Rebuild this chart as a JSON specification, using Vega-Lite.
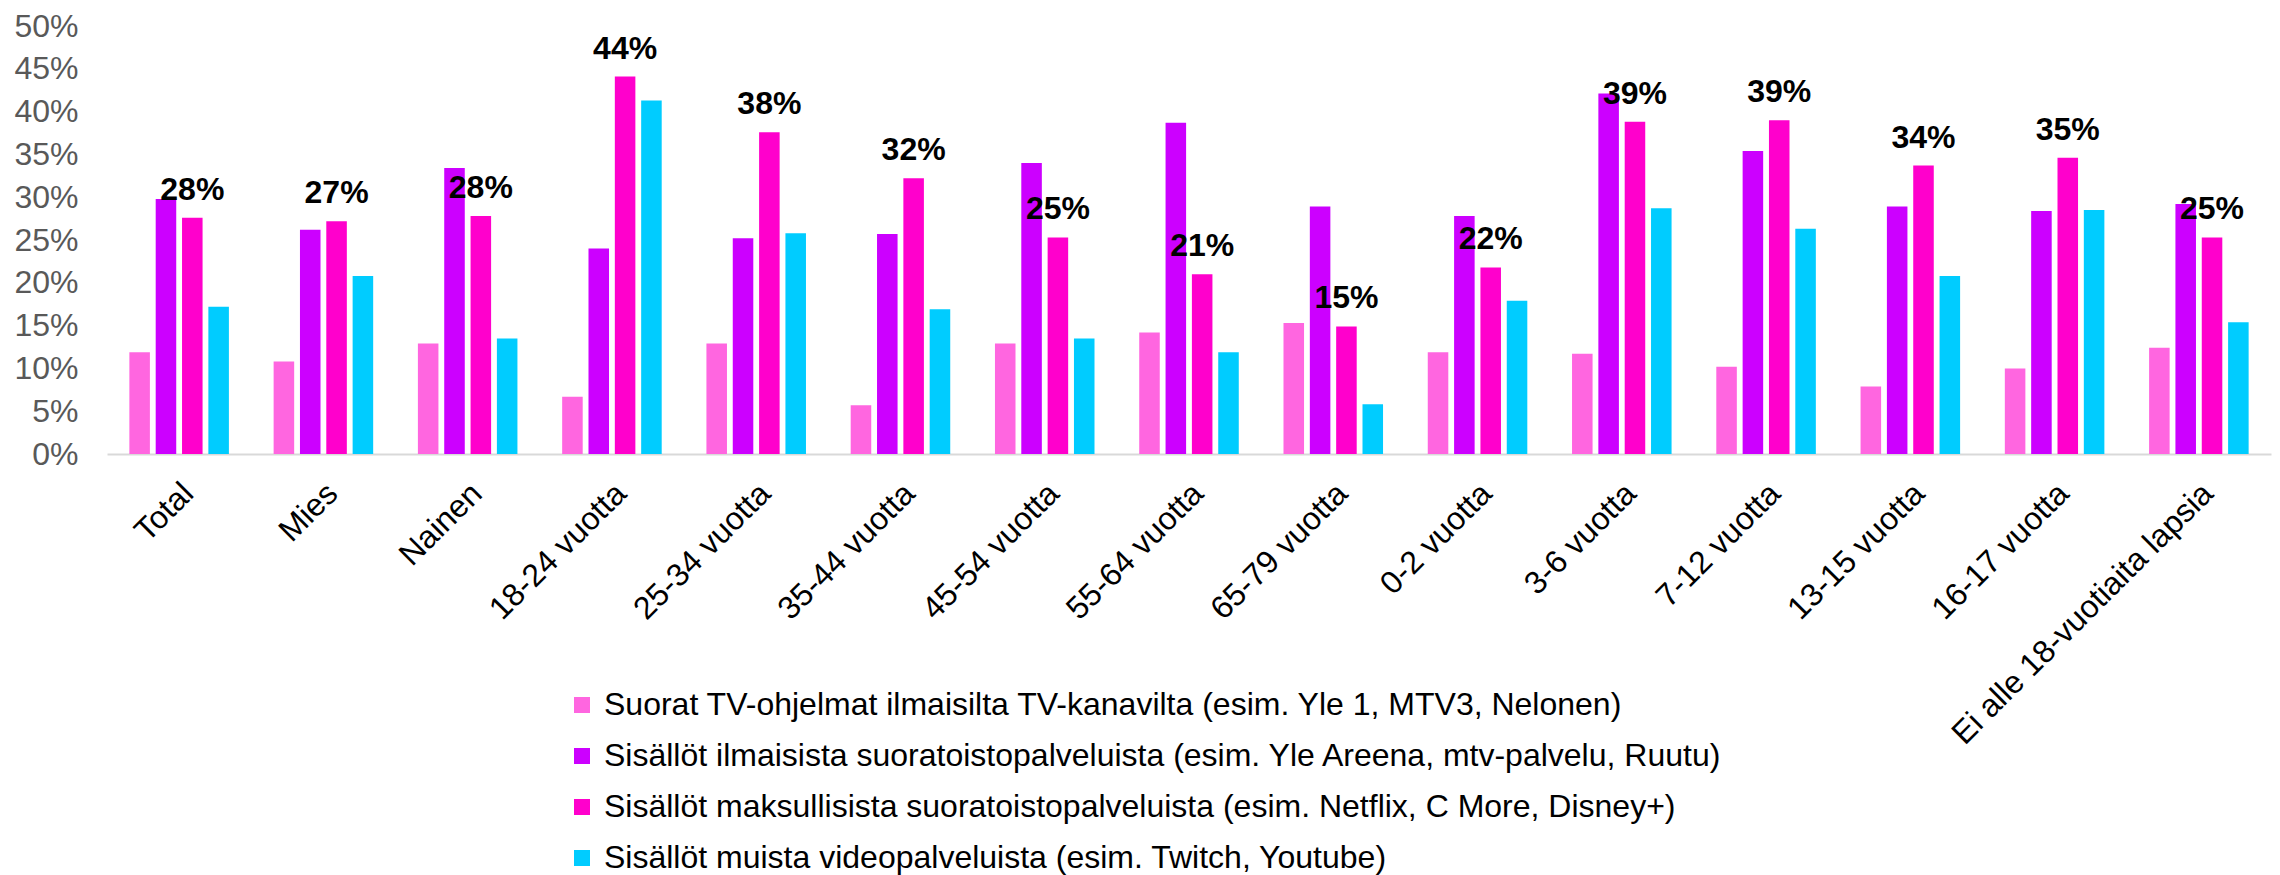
{
  "$schema": "https://vega.github.io/schema/vega-lite/v6.json",
  "autosize": {"type": "none"},
  "padding": {"left": 107, "top": 26, "right": 9, "bottom": 421},
  "width": 2164,
  "height": 428,
  "background": "white",
  "config": {
    "view": {"stroke": null},
    "font": "Liberation Sans"
  },
  "data": {
    "values": [
      {"g": "Total", "s": "Suorat TV-ohjelmat ilmaisilta TV-kanavilta (esim. Yle 1, MTV3, Nelonen)", "v": 0.119},
      {"g": "Total", "s": "Sisällöt ilmaisista suoratoistopalveluista (esim. Yle Areena, mtv-palvelu, Ruutu)", "v": 0.298},
      {"g": "Total", "s": "Sisällöt maksullisista suoratoistopalveluista (esim. Netflix, C More, Disney+)", "v": 0.276},
      {"g": "Total", "s": "Sisällöt muista videopalveluista (esim. Twitch, Youtube)", "v": 0.172},
      {"g": "Mies", "s": "Suorat TV-ohjelmat ilmaisilta TV-kanavilta (esim. Yle 1, MTV3, Nelonen)", "v": 0.108},
      {"g": "Mies", "s": "Sisällöt ilmaisista suoratoistopalveluista (esim. Yle Areena, mtv-palvelu, Ruutu)", "v": 0.262},
      {"g": "Mies", "s": "Sisällöt maksullisista suoratoistopalveluista (esim. Netflix, C More, Disney+)", "v": 0.272},
      {"g": "Mies", "s": "Sisällöt muista videopalveluista (esim. Twitch, Youtube)", "v": 0.208},
      {"g": "Nainen", "s": "Suorat TV-ohjelmat ilmaisilta TV-kanavilta (esim. Yle 1, MTV3, Nelonen)", "v": 0.129},
      {"g": "Nainen", "s": "Sisällöt ilmaisista suoratoistopalveluista (esim. Yle Areena, mtv-palvelu, Ruutu)", "v": 0.334},
      {"g": "Nainen", "s": "Sisällöt maksullisista suoratoistopalveluista (esim. Netflix, C More, Disney+)", "v": 0.278},
      {"g": "Nainen", "s": "Sisällöt muista videopalveluista (esim. Twitch, Youtube)", "v": 0.135},
      {"g": "18-24 vuotta", "s": "Suorat TV-ohjelmat ilmaisilta TV-kanavilta (esim. Yle 1, MTV3, Nelonen)", "v": 0.067},
      {"g": "18-24 vuotta", "s": "Sisällöt ilmaisista suoratoistopalveluista (esim. Yle Areena, mtv-palvelu, Ruutu)", "v": 0.240},
      {"g": "18-24 vuotta", "s": "Sisällöt maksullisista suoratoistopalveluista (esim. Netflix, C More, Disney+)", "v": 0.441},
      {"g": "18-24 vuotta", "s": "Sisällöt muista videopalveluista (esim. Twitch, Youtube)", "v": 0.413},
      {"g": "25-34 vuotta", "s": "Suorat TV-ohjelmat ilmaisilta TV-kanavilta (esim. Yle 1, MTV3, Nelonen)", "v": 0.129},
      {"g": "25-34 vuotta", "s": "Sisällöt ilmaisista suoratoistopalveluista (esim. Yle Areena, mtv-palvelu, Ruutu)", "v": 0.252},
      {"g": "25-34 vuotta", "s": "Sisällöt maksullisista suoratoistopalveluista (esim. Netflix, C More, Disney+)", "v": 0.376},
      {"g": "25-34 vuotta", "s": "Sisällöt muista videopalveluista (esim. Twitch, Youtube)", "v": 0.258},
      {"g": "35-44 vuotta", "s": "Suorat TV-ohjelmat ilmaisilta TV-kanavilta (esim. Yle 1, MTV3, Nelonen)", "v": 0.057},
      {"g": "35-44 vuotta", "s": "Sisällöt ilmaisista suoratoistopalveluista (esim. Yle Areena, mtv-palvelu, Ruutu)", "v": 0.257},
      {"g": "35-44 vuotta", "s": "Sisällöt maksullisista suoratoistopalveluista (esim. Netflix, C More, Disney+)", "v": 0.322},
      {"g": "35-44 vuotta", "s": "Sisällöt muista videopalveluista (esim. Twitch, Youtube)", "v": 0.169},
      {"g": "45-54 vuotta", "s": "Suorat TV-ohjelmat ilmaisilta TV-kanavilta (esim. Yle 1, MTV3, Nelonen)", "v": 0.129},
      {"g": "45-54 vuotta", "s": "Sisällöt ilmaisista suoratoistopalveluista (esim. Yle Areena, mtv-palvelu, Ruutu)", "v": 0.340},
      {"g": "45-54 vuotta", "s": "Sisällöt maksullisista suoratoistopalveluista (esim. Netflix, C More, Disney+)", "v": 0.253},
      {"g": "45-54 vuotta", "s": "Sisällöt muista videopalveluista (esim. Twitch, Youtube)", "v": 0.135},
      {"g": "55-64 vuotta", "s": "Suorat TV-ohjelmat ilmaisilta TV-kanavilta (esim. Yle 1, MTV3, Nelonen)", "v": 0.142},
      {"g": "55-64 vuotta", "s": "Sisällöt ilmaisista suoratoistopalveluista (esim. Yle Areena, mtv-palvelu, Ruutu)", "v": 0.387},
      {"g": "55-64 vuotta", "s": "Sisällöt maksullisista suoratoistopalveluista (esim. Netflix, C More, Disney+)", "v": 0.210},
      {"g": "55-64 vuotta", "s": "Sisällöt muista videopalveluista (esim. Twitch, Youtube)", "v": 0.119},
      {"g": "65-79 vuotta", "s": "Suorat TV-ohjelmat ilmaisilta TV-kanavilta (esim. Yle 1, MTV3, Nelonen)", "v": 0.153},
      {"g": "65-79 vuotta", "s": "Sisällöt ilmaisista suoratoistopalveluista (esim. Yle Areena, mtv-palvelu, Ruutu)", "v": 0.289},
      {"g": "65-79 vuotta", "s": "Sisällöt maksullisista suoratoistopalveluista (esim. Netflix, C More, Disney+)", "v": 0.149},
      {"g": "65-79 vuotta", "s": "Sisällöt muista videopalveluista (esim. Twitch, Youtube)", "v": 0.058},
      {"g": "0-2 vuotta", "s": "Suorat TV-ohjelmat ilmaisilta TV-kanavilta (esim. Yle 1, MTV3, Nelonen)", "v": 0.119},
      {"g": "0-2 vuotta", "s": "Sisällöt ilmaisista suoratoistopalveluista (esim. Yle Areena, mtv-palvelu, Ruutu)", "v": 0.278},
      {"g": "0-2 vuotta", "s": "Sisällöt maksullisista suoratoistopalveluista (esim. Netflix, C More, Disney+)", "v": 0.218},
      {"g": "0-2 vuotta", "s": "Sisällöt muista videopalveluista (esim. Twitch, Youtube)", "v": 0.179},
      {"g": "3-6 vuotta", "s": "Suorat TV-ohjelmat ilmaisilta TV-kanavilta (esim. Yle 1, MTV3, Nelonen)", "v": 0.117},
      {"g": "3-6 vuotta", "s": "Sisällöt ilmaisista suoratoistopalveluista (esim. Yle Areena, mtv-palvelu, Ruutu)", "v": 0.421},
      {"g": "3-6 vuotta", "s": "Sisällöt maksullisista suoratoistopalveluista (esim. Netflix, C More, Disney+)", "v": 0.388},
      {"g": "3-6 vuotta", "s": "Sisällöt muista videopalveluista (esim. Twitch, Youtube)", "v": 0.287},
      {"g": "7-12 vuotta", "s": "Suorat TV-ohjelmat ilmaisilta TV-kanavilta (esim. Yle 1, MTV3, Nelonen)", "v": 0.102},
      {"g": "7-12 vuotta", "s": "Sisällöt ilmaisista suoratoistopalveluista (esim. Yle Areena, mtv-palvelu, Ruutu)", "v": 0.354},
      {"g": "7-12 vuotta", "s": "Sisällöt maksullisista suoratoistopalveluista (esim. Netflix, C More, Disney+)", "v": 0.390},
      {"g": "7-12 vuotta", "s": "Sisällöt muista videopalveluista (esim. Twitch, Youtube)", "v": 0.263},
      {"g": "13-15 vuotta", "s": "Suorat TV-ohjelmat ilmaisilta TV-kanavilta (esim. Yle 1, MTV3, Nelonen)", "v": 0.079},
      {"g": "13-15 vuotta", "s": "Sisällöt ilmaisista suoratoistopalveluista (esim. Yle Areena, mtv-palvelu, Ruutu)", "v": 0.289},
      {"g": "13-15 vuotta", "s": "Sisällöt maksullisista suoratoistopalveluista (esim. Netflix, C More, Disney+)", "v": 0.337},
      {"g": "13-15 vuotta", "s": "Sisällöt muista videopalveluista (esim. Twitch, Youtube)", "v": 0.208},
      {"g": "16-17 vuotta", "s": "Suorat TV-ohjelmat ilmaisilta TV-kanavilta (esim. Yle 1, MTV3, Nelonen)", "v": 0.100},
      {"g": "16-17 vuotta", "s": "Sisällöt ilmaisista suoratoistopalveluista (esim. Yle Areena, mtv-palvelu, Ruutu)", "v": 0.284},
      {"g": "16-17 vuotta", "s": "Sisällöt maksullisista suoratoistopalveluista (esim. Netflix, C More, Disney+)", "v": 0.346},
      {"g": "16-17 vuotta", "s": "Sisällöt muista videopalveluista (esim. Twitch, Youtube)", "v": 0.285},
      {"g": "Ei alle 18-vuotiaita lapsia", "s": "Suorat TV-ohjelmat ilmaisilta TV-kanavilta (esim. Yle 1, MTV3, Nelonen)", "v": 0.124},
      {"g": "Ei alle 18-vuotiaita lapsia", "s": "Sisällöt ilmaisista suoratoistopalveluista (esim. Yle Areena, mtv-palvelu, Ruutu)", "v": 0.292},
      {"g": "Ei alle 18-vuotiaita lapsia", "s": "Sisällöt maksullisista suoratoistopalveluista (esim. Netflix, C More, Disney+)", "v": 0.253},
      {"g": "Ei alle 18-vuotiaita lapsia", "s": "Sisällöt muista videopalveluista (esim. Twitch, Youtube)", "v": 0.154}
    ]
  },
  "encoding": {
    "x": {
      "field": "g",
      "type": "nominal",
      "sort": null,
      "scale": {"paddingInner": 0.31, "paddingOuter": 0.155},
      "axis": {
        "title": null,
        "labelAngle": -45,
        "labelAlign": "right",
        "labelBaseline": "middle",
        "labelFontSize": 32,
        "labelColor": "#000000",
        "labelPadding": 34,
        "labelOffset": 9,
        "labelLimit": 0,
        "ticks": false,
        "domainColor": "#D9D9D9",
        "domainWidth": 2,
        "grid": false
      }
    },
    "xOffset": {
      "field": "s",
      "type": "nominal",
      "sort": [
        "Suorat TV-ohjelmat ilmaisilta TV-kanavilta (esim. Yle 1, MTV3, Nelonen)",
        "Sisällöt ilmaisista suoratoistopalveluista (esim. Yle Areena, mtv-palvelu, Ruutu)",
        "Sisällöt maksullisista suoratoistopalveluista (esim. Netflix, C More, Disney+)",
        "Sisällöt muista videopalveluista (esim. Twitch, Youtube)"
      ],
      "scale": {"paddingInner": 0.22, "paddingOuter": 0}
    },
    "y": {
      "field": "v",
      "type": "quantitative",
      "scale": {"domain": [0, 0.5], "nice": false},
      "axis": {
        "title": null,
        "format": ".0%",
        "values": [0, 0.05, 0.1, 0.15, 0.2, 0.25, 0.3, 0.35, 0.4, 0.45, 0.5],
        "labelFontSize": 32,
        "labelColor": "#595959",
        "labelPadding": 29,
        "ticks": false,
        "domain": false,
        "grid": false
      }
    }
  },
  "layer": [
    {
      "mark": {"type": "bar"},
      "encoding": {
        "color": {
          "field": "s",
          "type": "nominal",
          "scale": {
            "domain": [
              "Suorat TV-ohjelmat ilmaisilta TV-kanavilta (esim. Yle 1, MTV3, Nelonen)",
              "Sisällöt ilmaisista suoratoistopalveluista (esim. Yle Areena, mtv-palvelu, Ruutu)",
              "Sisällöt maksullisista suoratoistopalveluista (esim. Netflix, C More, Disney+)",
              "Sisällöt muista videopalveluista (esim. Twitch, Youtube)"
            ],
            "range": ["#FF66E0", "#CC00FF", "#FF00CC", "#00CCFF"]
          },
          "legend": {
            "orient": "none",
            "legendX": 459,
            "legendY": 663,
            "direction": "vertical",
            "title": null,
            "symbolType": "square",
            "symbolSize": 256,
            "symbolStrokeWidth": 0,
            "labelFontSize": 32,
            "labelColor": "#000000",
            "labelLimit": 0,
            "labelOffset": 6,
            "rowPadding": 19,
            "padding": 0
          }
        }
      }
    },
    {
      "transform": [
        {"filter": "datum.s === 'Sisällöt maksullisista suoratoistopalveluista (esim. Netflix, C More, Disney+)'"}
      ],
      "mark": {
        "type": "text",
        "fontWeight": "bold",
        "fontSize": 32,
        "color": "#000000",
        "baseline": "alphabetic",
        "align": "center",
        "dy": -18
      },
      "encoding": {
        "text": {"field": "v", "type": "quantitative", "format": ".0%"}
      }
    }
  ]
}
